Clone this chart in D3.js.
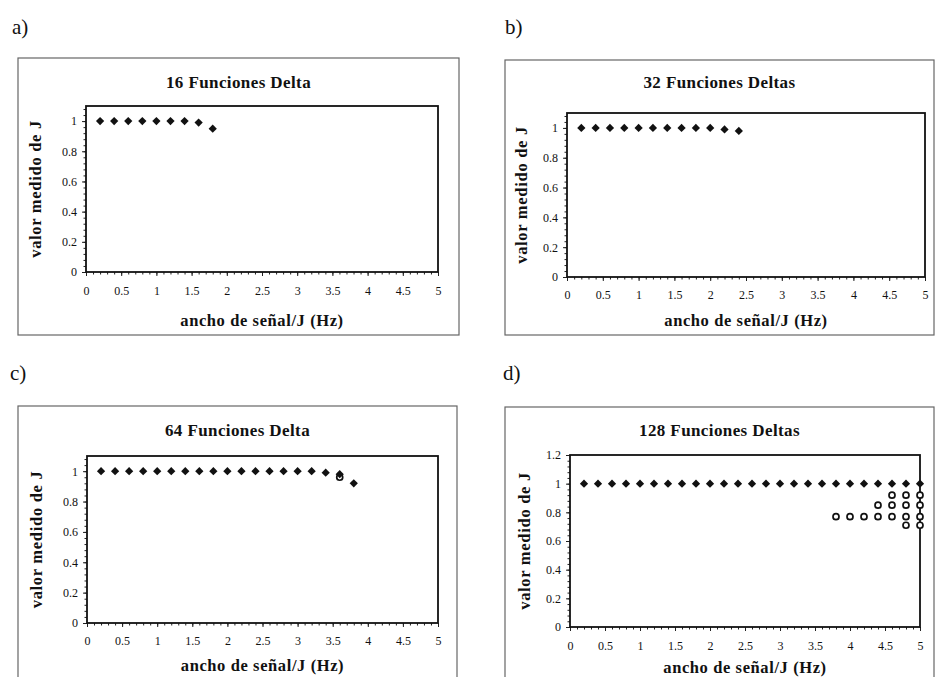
<!DOCTYPE html>
<html>
<head>
<meta charset="utf-8">
<script src="https://cdn.jsdelivr.net/npm/d3@7"></script>
<style>
  html, body { margin: 0; padding: 0; background: #fff; }
  svg { display: block; }
  svg text { font-family: "Liberation Serif", "Times New Roman", serif; }
  svg .tick text { font-size: 12px; fill: #111; }
</style>
</head>
<body>
<svg id="chart" width="939" height="677"></svg>
<script>
// Four scatter panels: measured J vs signal width / J, for 16, 32, 64, 128 delta functions.

const xTicks = [0, 0.5, 1, 1.5, 2, 2.5, 3, 3.5, 4, 4.5, 5];
const yTicks11 = [0, 0.2, 0.4, 0.6, 0.8, 1];
const yTicks12 = [0, 0.2, 0.4, 0.6, 0.8, 1, 1.2];

// a) 16 deltas
const aX = [0.2, 0.4, 0.6, 0.8, 1.0, 1.2, 1.4, 1.6, 1.8];
const aY = [1, 1, 1, 1, 1, 1, 1, 0.99, 0.95];

// b) 32 deltas
const bX = [0.2, 0.4, 0.6, 0.8, 1.0, 1.2, 1.4, 1.6, 1.8, 2.0, 2.2, 2.4];
const bY = [1, 1, 1, 1, 1, 1, 1, 1, 1, 1, 0.99, 0.98];

// c) 64 deltas
const cX = [0.2, 0.4, 0.6, 0.8, 1.0, 1.2, 1.4, 1.6, 1.8, 2.0, 2.2, 2.4, 2.6, 2.8, 3.0, 3.2, 3.4, 3.6, 3.8];
const cY = [1, 1, 1, 1, 1, 1, 1, 1, 1, 1, 1, 1, 1, 1, 1, 1, 0.99, 0.98, 0.92];
const cCircX = [3.6];
const cCircY = [0.96];

// d) 128 deltas
const dX = [0.2, 0.4, 0.6, 0.8, 1.0, 1.2, 1.4, 1.6, 1.8, 2.0, 2.2, 2.4, 2.6, 2.8, 3.0, 3.2, 3.4, 3.6, 3.8, 4.0, 4.2, 4.4, 4.6, 4.8, 5.0];
const dY = [1, 1, 1, 1, 1, 1, 1, 1, 1, 1, 1, 1, 1, 1, 1, 1, 1, 1, 1, 1, 1, 1, 1, 1, 1];
const dCircX = [3.8, 4.0, 4.2, 4.4, 4.6, 4.8, 5.0, 4.4, 4.6, 4.8, 5.0, 4.6, 4.8, 5.0, 4.8, 5.0];
const dCircY = [0.77, 0.77, 0.77, 0.77, 0.77, 0.77, 0.77, 0.85, 0.85, 0.85, 0.85, 0.92, 0.92, 0.92, 0.71, 0.71];

const svg = d3.select("#chart");

const panels = [
  { label: "a)", lx: 12, ly: 34, title: "16 Funciones Delta", xTitle: "ancho de señal/J  (Hz)",
    frame: [18, 58, 459, 335], plot: [86, 106, 438, 272], ymax: 1.1, yTicks: yTicks11,
    titleY: 88, tickY: 295, xTitleY: 326, yTitleX: 41,
    dx: aX, dy: aY, cx: [], cy: [] },
  { label: "b)", lx: 505, ly: 34, title: "32 Funciones Deltas", xTitle: "ancho de señal/J (Hz)",
    frame: [505, 60, 934, 335], plot: [567, 113, 925, 277], ymax: 1.1, yTicks: yTicks11,
    titleY: 88, tickY: 299, xTitleY: 326, yTitleX: 527,
    dx: bX, dy: bY, cx: [], cy: [] },
  { label: "c)", lx: 10, ly: 380, title: "64 Funciones Delta", xTitle: "ancho de señal/J (Hz)",
    frame: [18, 406, 457, 700], plot: [87, 456, 438, 623], ymax: 1.1, yTicks: yTicks11,
    titleY: 436, tickY: 645, xTitleY: 671, yTitleX: 42,
    dx: cX, dy: cY, cx: cCircX, cy: cCircY },
  { label: "d)", lx: 503, ly: 380, title: "128 Funciones Deltas", xTitle: "ancho de señal/J (Hz)",
    frame: [505, 407, 934, 700], plot: [570, 455, 920, 627], ymax: 1.2, yTicks: yTicks12,
    titleY: 436, tickY: 650, xTitleY: 673, yTitleX: 530,
    dx: dX, dy: dY, cx: dCircX, cy: dCircY },
];

const fmt = d3.format("~g");
const diamond = d3.symbol(d3.symbolSquare, 34);

panels.forEach(p => {
  const g = svg.append("g");
  const [fx0, fy0, fx1, fy1] = p.frame;
  const [px0, py0, px1, py1] = p.plot;

  // panel letter
  g.append("text").attr("x", p.lx).attr("y", p.ly)
    .attr("font-size", 21).attr("fill", "#111").text(p.label);

  // outer chart frame
  g.append("rect").attr("x", fx0).attr("y", fy0)
    .attr("width", fx1 - fx0).attr("height", fy1 - fy0)
    .attr("fill", "none").attr("stroke", "#666").attr("stroke-width", 1.2);

  const x = d3.scaleLinear().domain([0, 5]).range([px0, px1]);
  const y = d3.scaleLinear().domain([0, p.ymax]).range([py1, py0]);

  // minor ticks
  g.append("g").attr("transform", `translate(0,${py1})`)
    .call(d3.axisBottom(x).tickValues(d3.range(0, 5.001, 0.1)).tickSize(2.5).tickFormat(""))
    .call(s => s.select(".domain").remove())
    .selectAll("line").attr("stroke", "#222");
  g.append("g").attr("transform", `translate(${px0},0)`)
    .call(d3.axisLeft(y).tickValues(d3.range(0, p.ymax + 0.001, 0.04)).tickSize(2.5).tickFormat(""))
    .call(s => s.select(".domain").remove())
    .selectAll("line").attr("stroke", "#222");

  // major ticks + labels
  const gx = g.append("g").attr("transform", `translate(0,${py1})`)
    .call(d3.axisBottom(x).tickValues(xTicks).tickSize(4).tickPadding(p.tickY - py1 - 13).tickFormat(fmt));
  gx.select(".domain").remove();
  gx.selectAll("line").attr("stroke", "#222");

  const gy = g.append("g").attr("transform", `translate(${px0},0)`)
    .call(d3.axisLeft(y).tickValues(p.yTicks).tickSize(4).tickPadding(5).tickFormat(fmt));
  gy.select(".domain").remove();
  gy.selectAll("line").attr("stroke", "#222");

  // plot area border
  g.append("rect").attr("x", px0).attr("y", py0)
    .attr("width", px1 - px0).attr("height", py1 - py0)
    .attr("fill", "none").attr("stroke", "#111").attr("stroke-width", 1.8);

  // open circles
  g.append("g").selectAll("circle").data(p.cx.map((v, i) => [v, p.cy[i]]))
    .join("circle")
      .attr("cx", d => x(d[0])).attr("cy", d => y(d[1])).attr("r", 3)
      .attr("fill", "#fff").attr("stroke", "#111").attr("stroke-width", 1.7);

  // filled diamonds
  g.append("g").selectAll("path").data(p.dx.map((v, i) => [v, p.dy[i]]))
    .join("path")
      .attr("d", diamond)
      .attr("transform", d => `translate(${x(d[0])},${y(d[1])}) rotate(45)`)
      .attr("fill", "#111");

  // titles
  g.append("text").attr("x", (fx0 + fx1) / 2).attr("y", p.titleY)
    .attr("text-anchor", "middle").attr("font-size", 17).attr("font-weight", "bold")
    .attr("letter-spacing", 0.4).attr("fill", "#111").text(p.title);

  g.append("text").attr("x", (px0 + px1) / 2).attr("y", p.xTitleY)
    .attr("text-anchor", "middle").attr("font-size", 16.5).attr("font-weight", "bold")
    .attr("letter-spacing", 0.6).attr("fill", "#111").text(p.xTitle);

  g.append("text")
    .attr("transform", `translate(${p.yTitleX},${(py0 + py1) / 2}) rotate(-90)`)
    .attr("text-anchor", "middle").attr("font-size", 16.5).attr("font-weight", "bold")
    .attr("letter-spacing", 0.7).attr("fill", "#111").text("valor medido de J");
});
</script>
</body>
</html>
